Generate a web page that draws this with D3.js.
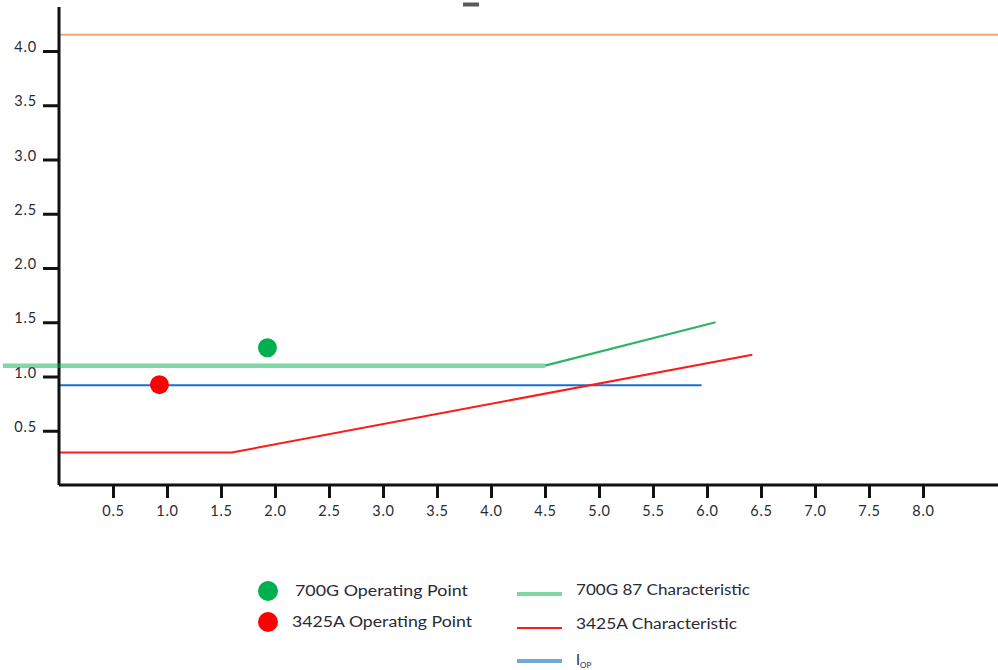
<!DOCTYPE html>
<html>
<head>
<meta charset="utf-8">
<script src="https://cdn.jsdelivr.net/npm/d3@7"></script>
<style>
  html, body { margin: 0; padding: 0; background: #fff; }
  svg { display: block; }
  text { font-family: Lato, "Open Sans", sans-serif; fill: #2a2a35; }
</style>
</head>
<body>
<svg id="chart" width="998" height="670"></svg>
<script>
// ---- data ----
const xTickValues = [0.5, 1.0, 1.5, 2.0, 2.5, 3.0, 3.5, 4.0, 4.5, 5.0, 5.5, 6.0, 6.5, 7.0, 7.5, 8.0];
const yTickValues = [0.5, 1.0, 1.5, 2.0, 2.5, 3.0, 3.5, 4.0];

const limitLine = [[0, 4.15], [8.7, 4.15]];                 // orange
const char700GFlat = [[-0.52, 1.1], [4.5, 1.1]];           // 700G 87 characteristic (flat part)
const char700GSlope = [[4.5, 1.1], [6.08, 1.5]];           // 700G 87 characteristic (slope)
const char3425A = [[0, 0.3], [1.6, 0.3], [6.42, 1.2]];     // 3425A characteristic
const iop = [[0, 0.92], [5.95, 0.92]];                     // I_OP

const opPointNames = ["700G Operating Point", "3425A Operating Point"];
const opPointX = [1.93, 0.93];
const opPointY = [1.265, 0.925];
const opPointColors = ["#00b050", "#ff0000"];

const lineLegendNames = ["700G 87 Characteristic", "3425A Characteristic", "I"];

// ---- layout ----
const svg = d3.select("#chart");
const x = d3.scaleLinear().domain([0, 8.7]).range([59, 998.6]);
const y = d3.scaleLinear().domain([0, 4.4]).range([485, 7.6]);
const line = d3.line().x(d => x(d[0])).y(d => y(d[1]));

// small dash at top
svg.append("rect").attr("x", 463).attr("y", 2.5).attr("width", 16).attr("height", 4).attr("fill", "#5a5a5a");

// orange line
svg.append("path").datum(limitLine).attr("d", line)
  .attr("fill", "none").attr("stroke", "#f4a46c").attr("stroke-width", 1.8);

// I_OP
svg.append("path").datum(iop).attr("d", line)
  .attr("fill", "none").attr("stroke", "#1a6fd0").attr("stroke-width", 2);

// 3425A characteristic
svg.append("path").datum(char3425A).attr("d", line)
  .attr("fill", "none").attr("stroke", "#ff1a1a").attr("stroke-width", 2);

// 700G slope
svg.append("path").datum(char700GSlope).attr("d", line)
  .attr("fill", "none").attr("stroke", "#2fb464").attr("stroke-width", 2.2);

// axes
const xAxis = d3.axisBottom(x).tickValues(xTickValues).tickFormat(d3.format(".1f"))
  .tickSize(13).tickPadding(8).tickSizeOuter(0);
const yAxis = d3.axisLeft(y).tickValues(yTickValues).tickFormat(d3.format(".1f"))
  .tickSize(16).tickPadding(6).tickSizeOuter(0);

const gx = svg.append("g").attr("transform", `translate(0,${y(0)})`).call(xAxis);
const gy = svg.append("g").attr("transform", `translate(${x(0)},0)`).call(yAxis);
[gx, gy].forEach(g => {
  g.select(".domain").attr("stroke", "#111").attr("stroke-width", 3);
  g.selectAll(".tick line").attr("stroke", "#111").attr("stroke-width", 3);
  g.selectAll(".tick text").attr("fill", "#2a2e42").style("font-size", "14.5px")
    .style("letter-spacing", "0.8px")
    .style("font-family", "Lato, sans-serif");
});
gy.selectAll(".tick text").attr("dy", "0.05em");
gx.select(".domain").attr("d", `M${x(0)},0H998`);
gy.select(".domain").attr("d", `M0,${y(0)}V7`);

// 700G flat (semi-transparent, drawn over axis)
svg.append("path").datum(char700GFlat).attr("d", line)
  .attr("fill", "none").attr("stroke", "#00b050").attr("stroke-opacity", 0.5).attr("stroke-width", 4.5);

// operating points
svg.selectAll("circle.op").data(opPointX).join("circle")
  .attr("class", "op")
  .attr("cx", d => x(d))
  .attr("cy", (d, i) => y(opPointY[i]))
  .attr("r", 9.5)
  .attr("fill", (d, i) => opPointColors[i]);

// ---- legend ----
const leg = svg.append("g");
const ptRows = [591, 622];
const ptTextLen = [173, 180];
const ptTextX = [295, 292];
opPointNames.forEach((name, i) => {
  leg.append("circle").attr("cx", 268).attr("cy", ptRows[i]).attr("r", 10).attr("fill", opPointColors[i]);
  leg.append("text").attr("x", ptTextX[i]).attr("y", ptRows[i] + 5)
    .attr("textLength", ptTextLen[i]).attr("lengthAdjust", "spacingAndGlyphs")
    .style("font-size", "14.5px").text(name);
});

const lnRows = [594, 628, 661];
const lnColors = ["#7fd6a2", "#ff1a1a", "#6fa8dc"];
const lnWidths = [4, 2, 4];
const lnTextLen = [174, 161, null];
lineLegendNames.forEach((name, i) => {
  leg.append("line").attr("x1", 517).attr("x2", 562).attr("y1", lnRows[i]).attr("y2", lnRows[i])
    .attr("stroke", lnColors[i]).attr("stroke-width", lnWidths[i]);
  const t = leg.append("text").attr("x", 576).attr("y", lnRows[i] + (i === 2 ? 4 : 1))
    .style("font-size", "14.5px");
  if (lnTextLen[i]) {
    t.attr("textLength", lnTextLen[i]).attr("lengthAdjust", "spacingAndGlyphs").text(name);
  } else {
    t.text(name);
    t.append("tspan").attr("dy", 3).style("font-size", "8px").text("OP");
  }
});
</script>
</body>
</html>
